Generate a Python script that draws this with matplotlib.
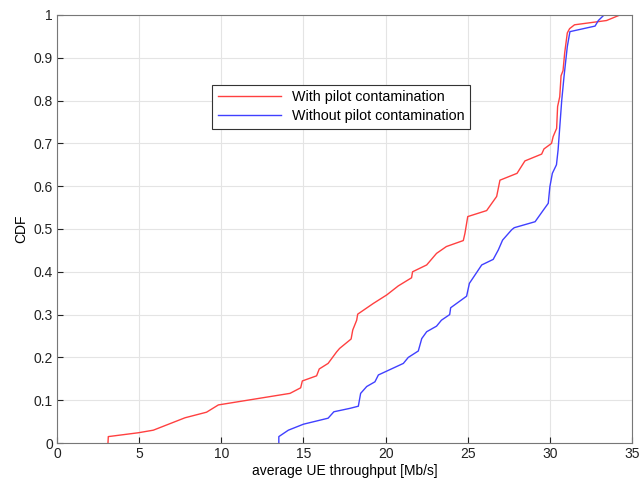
import matplotlib
matplotlib.use("Agg")
import matplotlib.pyplot as plt
import numpy as np

plt.rcParams['font.family'] = ['Liberation Sans', 'DejaVu Sans']

# CDF curves (throughput in Mb/s, cumulative probability)
with_x = [3.1, 3.12, 4.95, 5.86, 7.79, 9.1, 9.82, 14.18, 14.83, 14.93, 15.8, 15.96,
          16.5, 17.02, 17.2, 17.9, 18.0, 18.24, 18.3, 19.25, 20.07, 20.77, 21.58,
          21.64, 22.5, 23.1, 23.7, 24.73, 24.83, 25.0, 26.15, 26.76, 26.96, 28.0,
          28.48, 29.5, 29.64, 30.1, 30.2, 30.41, 30.47, 30.6, 30.68, 30.8, 30.9,
          31.06, 31.2, 31.5, 33.45, 34.27]
with_y = [0.0, 0.015, 0.024, 0.030, 0.059, 0.072, 0.089, 0.116, 0.129, 0.145, 0.157,
          0.173, 0.186, 0.213, 0.221, 0.243, 0.264, 0.287, 0.301, 0.326, 0.346, 0.367,
          0.386, 0.40, 0.416, 0.443, 0.459, 0.473, 0.49, 0.529, 0.543, 0.576, 0.614,
          0.630, 0.659, 0.675, 0.687, 0.70, 0.716, 0.735, 0.786, 0.809, 0.858, 0.870,
          0.911, 0.958, 0.968, 0.977, 0.987, 1.0]

without_x = [13.5, 13.5, 14.08, 15.0, 16.5, 16.85, 17.83, 18.34, 18.48, 18.85, 19.35,
             19.56, 21.08, 21.38, 21.99, 22.2, 22.5, 23.1, 23.4, 23.9, 23.96, 24.93,
             25.1, 25.85, 26.55, 26.86, 27.12, 27.67, 27.83, 29.1, 29.6, 29.9, 30.0,
             30.15, 30.4, 30.5, 30.72, 30.86, 31.06, 31.22, 32.75, 32.95, 33.3]
without_y = [0.0, 0.015, 0.030, 0.044, 0.058, 0.073, 0.081, 0.086, 0.116, 0.132, 0.143,
             0.159, 0.186, 0.20, 0.215, 0.244, 0.26, 0.273, 0.287, 0.30, 0.316, 0.343,
             0.373, 0.416, 0.429, 0.451, 0.474, 0.498, 0.503, 0.517, 0.544, 0.560, 0.599,
             0.630, 0.650, 0.685, 0.80, 0.856, 0.926, 0.961, 0.974, 0.987, 1.0]

fig = plt.figure(figsize=(6.41, 4.87), dpi=100)
ax = fig.add_axes([0.089, 0.0903, 0.897, 0.879])

ax.plot(with_x, with_y, color='#ff4040', lw=1.0, label='With pilot contamination')
ax.plot(without_x, without_y, color='#4040ff', lw=1.0, label='Without pilot contamination')

ax.set_xlim(0, 35)
ax.set_ylim(0, 1)
ax.set_xticks(np.arange(0, 36, 5))
ax.set_yticks(np.arange(0, 1.01, 0.1))
ax.set_yticklabels(['0'] + ['%.1f' % v for v in np.arange(0.1, 0.95, 0.1)] + ['1'])
ax.grid(True, color='#e4e4e4', lw=0.8, ls='-')
ax.tick_params(direction='in', length=4, labelsize=10, colors='#222222', pad=3)
for s in ax.spines.values():
    s.set_color('#777777')

ax.set_xlabel('average UE throughput [Mb/s]', fontsize=10, labelpad=2)
ax.set_ylabel('CDF', fontsize=10, labelpad=4)

leg = ax.legend(loc='center', bbox_to_anchor=(0.494, 0.785), fontsize=10.3,
                fancybox=False, framealpha=1, edgecolor='#333333',
                handlelength=4.4, borderpad=0.4, labelspacing=0.35)
leg.get_frame().set_linewidth(0.8)

fig.savefig('out.png', dpi=100)
